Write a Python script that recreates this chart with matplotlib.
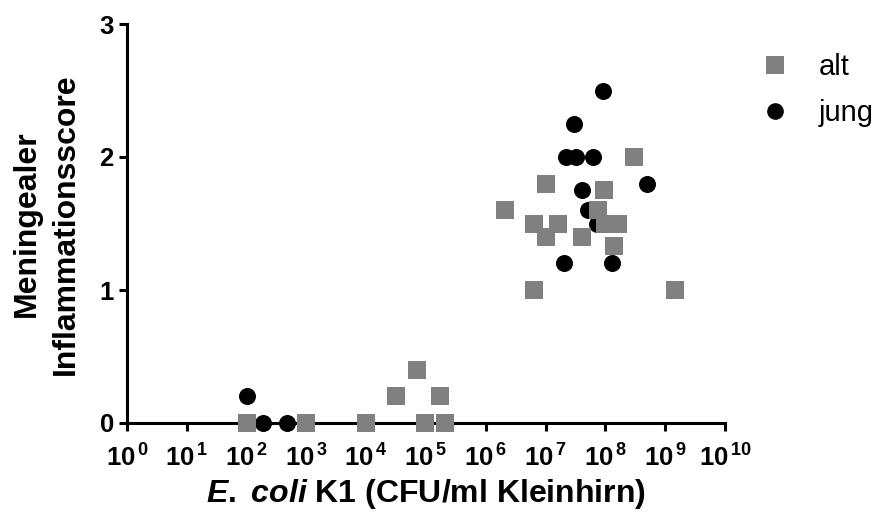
import matplotlib
matplotlib.use("Agg")
import matplotlib.pyplot as plt
from matplotlib.lines import Line2D

# CFU/ml Kleinhirn vs. meningealer Inflammationsscore
alt_cfu = [1e2, 1e3, 1e4, 3.2e4, 7e4, 9.5e4, 1.7e5, 2.1e5,
           2.1e6, 6.5e6, 6.5e6, 1e7, 1e7, 1.6e7, 4e7, 7.5e7,
           9.5e7, 9.8e7, 1.65e8, 1.4e8, 3e8, 1.45e9]
alt_score = [0, 0, 0, 0.2, 0.4, 0, 0.2, 0,
             1.6, 1.5, 1.0, 1.8, 1.4, 1.5, 1.4, 1.6,
             1.75, 1.5, 1.5, 1.33, 2.0, 1.0]

jung_cfu = [1e2, 1.9e2, 4.8e2, 9.1e7, 3e7, 2.2e7, 3.2e7, 6.3e7,
            5e8, 4e7, 5.1e7, 7.1e7, 2e7, 1.3e8]
jung_score = [0.2, 0, 0, 2.5, 2.25, 2.0, 2.0, 2.0,
              1.8, 1.75, 1.6, 1.5, 1.2, 1.2]

x_exponents = list(range(0, 11))
y_ticks = [0, 1, 2, 3]

plt.rcParams['font.family'] = ['Liberation Sans', 'DejaVu Sans']
plt.rcParams['mathtext.fontset'] = 'custom'
plt.rcParams['mathtext.rm'] = 'Liberation Sans:bold'
plt.rcParams['mathtext.bf'] = 'Liberation Sans:bold'
plt.rcParams['mathtext.it'] = 'Liberation Sans:bold:italic'

fig = plt.figure(figsize=(8.82, 5.16), dpi=100)
ax = fig.add_axes([127/882, 1 - 423/516, 598/882, 399/516])

sq_color = '#808080'
ax.scatter(jung_cfu, jung_score, marker='o', s=150, color='black',
           linewidths=0, clip_on=False, zorder=3)
ax.scatter(alt_cfu, alt_score, marker='s', s=170, color=sq_color,
           linewidths=0, clip_on=False, zorder=4)

ax.set_xscale('log')
ax.set_xlim(1, 1e10)
ax.set_ylim(0, 3)
ax.set_xticks([10.0 ** e for e in x_exponents])
ax.set_xticklabels([r'$10^{\,%d}$' % e for e in x_exponents])
ax.minorticks_off()
ax.set_yticks(y_ticks)
ax.set_yticklabels([str(t) for t in y_ticks], fontweight='bold')

for side in ['top', 'right']:
    ax.spines[side].set_visible(False)
for side in ['left', 'bottom']:
    ax.spines[side].set_linewidth(2.2)
ax.tick_params(axis='both', direction='out', length=5.5, width=2.2,
               labelsize=18.5)
ax.tick_params(axis='x', pad=10)
ax.tick_params(axis='y', pad=4)

ax.set_xlabel(r'$\mathit{E.}$ $\mathit{coli}$ K1 (CFU/ml Kleinhirn)',
              fontsize=23, fontweight='bold', labelpad=4)
fig.text(46/882, 1 - 224/516, 'Meningealer\nInflammationsscore',
         rotation=90, ha='center', va='center', multialignment='center',
         fontsize=23, fontweight='bold', linespacing=1.4)

handles = [Line2D([], [], marker='s', linestyle='none', markersize=13,
                  markerfacecolor=sq_color, markeredgewidth=0),
           Line2D([], [], marker='o', linestyle='none', markersize=12,
                  markerfacecolor='black', markeredgewidth=0)]
ax.legend(handles, ['alt', 'jung'], loc='upper left',
          bbox_to_anchor=(760/882, 1 - 53/516),
          bbox_transform=fig.transFigure, frameon=False, fontsize=21,
          handlelength=1.0, handletextpad=1.0, labelspacing=0.62,
          borderaxespad=0, borderpad=0)

fig.savefig('out.png', dpi=100)
